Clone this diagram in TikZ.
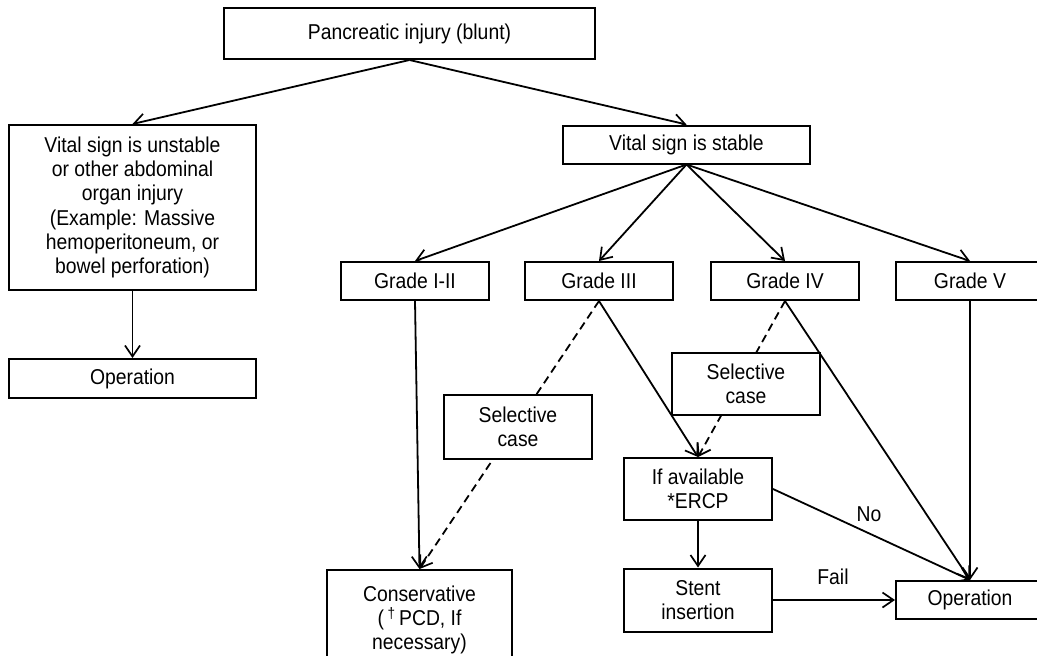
\documentclass[tikz,border=0pt]{standalone}
\usepackage{fontspec}
\setmainfont[FakeStretch=0.9]{Liberation Sans}
\usetikzlibrary{arrows.meta,backgrounds}
\begin{document}
\begin{tikzpicture}[x=1pt,y=-1pt,
  every node/.style={font=\fontsize{21.5}{24.3}\selectfont},
  box/.style={draw,line width=2pt,fill=white,inner sep=0pt,align=center},
  conn/.style={line width=1.8pt,-{Straight Barb[length=11pt,width=15pt,line width=1.7pt]}},
  dconn/.style={conn,dash pattern=on 8pt off 5pt},
  lbl/.style={inner sep=0pt}]
\useasboundingbox (0,0) rectangle (1037,656);
% nodes
\node[box,minimum width=371pt,minimum height=51pt] (top) at (409.5,33.5) {Pancreatic injury (blunt)};
\node[box,minimum width=247pt,minimum height=165pt] (unst) at (132.5,207.5) {Vital sign is unstable\\or other abdominal\\organ injury\\(Example: Massive\\hemoperitoneum, or\\bowel perforation)};
\node[box,minimum width=247pt,minimum height=39pt] (opl) at (132.5,378.5) {Operation};
\node[box,minimum width=247pt,minimum height=38pt] (stable) at (686.5,144.5) {Vital sign is stable};
\node[box,minimum width=148pt,minimum height=38pt] (g12) at (415,281) {Grade I-II};
\node[box,minimum width=148pt,minimum height=38pt] (g3) at (599,281) {Grade III};
\node[box,minimum width=148pt,minimum height=38pt] (g4) at (785,281) {Grade IV};
\node[box,minimum width=148pt,minimum height=38pt] (g5) at (970,281) {Grade V};
\node[box,minimum width=148pt,minimum height=64pt] (sel1) at (518,427) {Selective\\case};
\node[box,minimum width=148pt,minimum height=62pt] (sel2) at (746,384) {Selective\\case};
\node[box,minimum width=148pt,minimum height=62pt] (ercp) at (698,489) {If available\\*ERCP};
\node[box,minimum width=148pt,minimum height=63pt] (stent) at (698,600) {Stent\\insertion};
\node[box,minimum width=148pt,minimum height=38pt] (opr) at (970,600) {Operation};
\node[box,minimum width=185pt,minimum height=100pt] (cons) at (419.5,620) {Conservative\\(\,\textsuperscript{\textdagger}\,PCD, If\\necessary)};
% connectors
\begin{pgfonlayer}{background}
\fill[white] (0,0) rectangle (1037,656);
\draw[conn] (top.south) -- (unst.north);
\draw[conn] (top.south) -- (stable.north);
\draw[conn] (unst.south) -- (opl.north);
\draw[conn] (stable.south) -- (g12.north);
\draw[conn] (stable.south) -- (g3.north);
\draw[conn] (stable.south) -- (g4.north);
\draw[conn] (stable.south) -- (g5.north);
\draw[conn] (g12.south) -- (cons.north);
\draw[dconn] (g3.south) -- (cons.north);
\draw[conn] (g3.south) -- (ercp.north);
\draw[dconn] (g4.south) -- (ercp.north);
\draw[conn] (g4.south) -- (opr.north);
\draw[conn] (g5.south) -- (opr.north);
\draw[conn] (ercp.east) -- (opr.north);
\draw[conn] (ercp.south) -- (stent.north);
\draw[conn] (stent.east) -- (opr.west);
\end{pgfonlayer}
\node[lbl] (no) at (869,514) {No};
\node[lbl] (fail) at (833,577) {Fail};
\end{tikzpicture}
\end{document}
